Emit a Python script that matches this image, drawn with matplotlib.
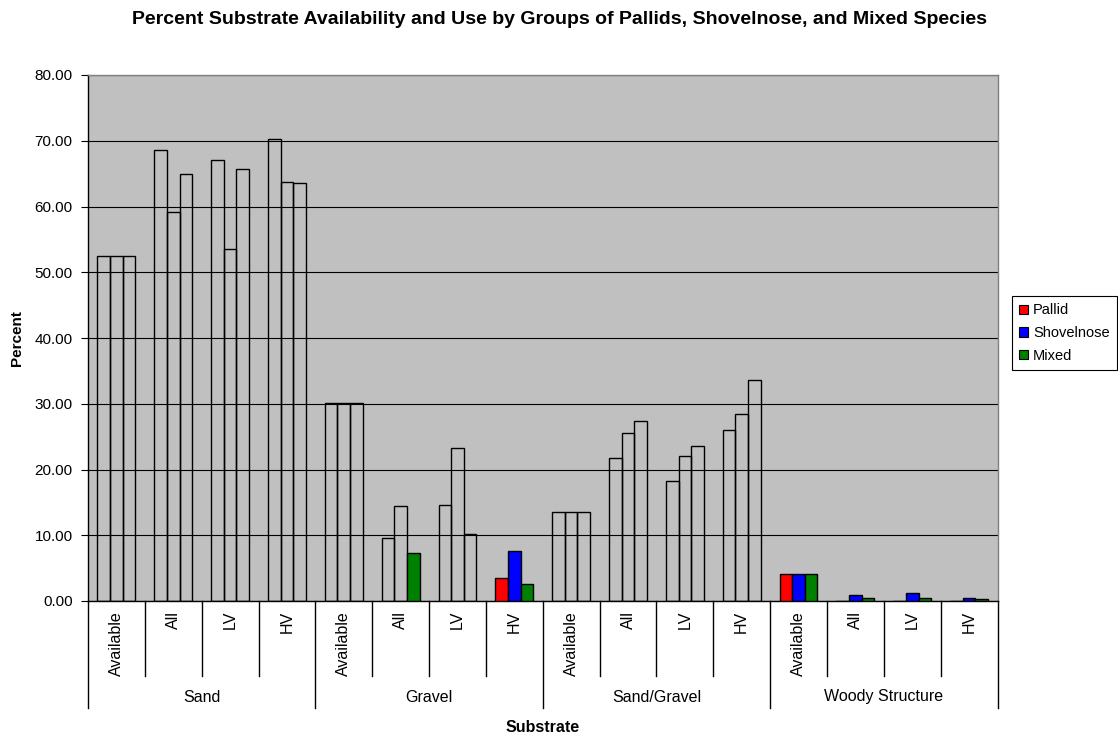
import matplotlib
matplotlib.use("Agg")
import matplotlib.pyplot as plt
from matplotlib.patches import Patch
import numpy as np

plt.rcParams['font.family'] = ['Liberation Sans', 'DejaVu Sans']

# Category structure
substrates = ['Sand', 'Gravel', 'Sand/Gravel', 'Woody Structure']
groups = ['Available', 'All', 'LV', 'HV']
series_names = ['Pallid', 'Shovelnose', 'Mixed']

# Percent values, one per (substrate, group) pair
pallid = [52.5, 68.6, 67.1, 70.3,
          30.1, 9.6, 14.65, 3.55,
          13.5, 21.7, 18.25, 26.05,
          4.1, 0.0, 0.0, 0.0]
shovelnose = [52.5, 59.2, 53.5, 63.8,
              30.1, 14.4, 23.3, 7.55,
              13.5, 25.55, 22.05, 28.4,
              4.1, 0.9, 1.27, 0.5]
mixed = [52.5, 64.9, 65.7, 63.6,
         30.1, 7.35, 10.25, 2.53,
         13.5, 27.4, 23.6, 33.55,
         4.1, 0.5, 0.5, 0.3]

# Which bars carry a solid fill (others are outline only)
pallid_filled = [7, 12]
shovelnose_filled = [7, 12, 13, 14, 15]
mixed_filled = [5, 7, 12, 13, 14, 15]

colors = ['#FF0000', '#0000FF', '#008000']

fig = plt.figure(figsize=(11.18, 7.38), dpi=100)
ax = fig.add_axes([88 / 1118, 1 - 601 / 738, 909.5 / 1118, 526 / 738])
ax.set_facecolor('#C0C0C0')

n = len(pallid)
x = np.arange(n)
w = 1 / 4.5
all_series = [pallid, shovelnose, mixed]
all_filled = [pallid_filled, shovelnose_filled, mixed_filled]
for k, (vals, col, filled) in enumerate(zip(all_series, colors, all_filled)):
    fcs = [col if i in filled else 'none' for i in range(n)]
    ax.bar(x + (k - 1) * w, vals, w, color=fcs, edgecolor='black',
           linewidth=1.0, zorder=3)

ax.set_xlim(-0.5, n - 0.5)
ax.set_ylim(0, 80)
ax.set_yticks(np.arange(0, 81, 10))
ax.set_yticklabels([f'{v:.2f}' for v in np.arange(0, 81, 10)])
ax.tick_params(axis='y', direction='out', length=5, labelsize=11, pad=6)
ax.set_xticks([])
ax.yaxis.grid(True, color='black', linewidth=0.8)
ax.set_axisbelow(True)

for s in ['left', 'bottom']:
    ax.spines[s].set_color('black')
    ax.spines[s].set_linewidth(1.0)
for s in ['top', 'right']:
    ax.spines[s].set_color('#808080')
    ax.spines[s].set_linewidth(1.0)

# Two-level category axis
trans = ax.get_xaxis_transform()
for b in range(n + 1):
    depth = 107 / 526 if b % 4 == 0 else 75 / 526
    ax.plot([b - 0.5, b - 0.5], [0, -depth], transform=trans,
            color='black', linewidth=1.0, clip_on=False)
for i in range(n):
    ax.text(i, -10 / 526, groups[i % 4], rotation=90, ha='center', va='top',
            transform=trans, fontsize=11.5)
for g, name in enumerate(substrates):
    ax.text(4 * g + 1.5, -96 / 526, name, ha='center', va='center',
            transform=trans, fontsize=11.5)

ax.text(7.5, -127 / 526, 'Substrate', ha='center', va='center',
        transform=trans, fontsize=11.5, fontweight='bold')
fig.text(17 / 1118, 1 - 338 / 738, 'Percent', rotation=90, ha='center',
         va='center', fontsize=11, fontweight='bold')
fig.text(0.5, 1 - 19 / 738,
         'Percent Substrate Availability and Use by Groups of Pallids, '
         'Shovelnose, and Mixed Species',
         ha='center', va='center', fontsize=14, fontweight='bold')

handles = [Patch(facecolor=c, edgecolor='black', linewidth=0.8) for c in colors]
leg = fig.legend(handles, series_names, loc='upper left',
                 bbox_to_anchor=(1012 / 1118, 1 - 296 / 738),
                 frameon=True, fancybox=False, framealpha=1,
                 edgecolor='black', handlelength=0.6, handleheight=0.6,
                 handletextpad=0.35, borderpad=0.5, labelspacing=0.6,
                 fontsize=10.5, borderaxespad=0)
leg.get_frame().set_linewidth(0.8)

fig.savefig('out.png', dpi=100, facecolor='white')
